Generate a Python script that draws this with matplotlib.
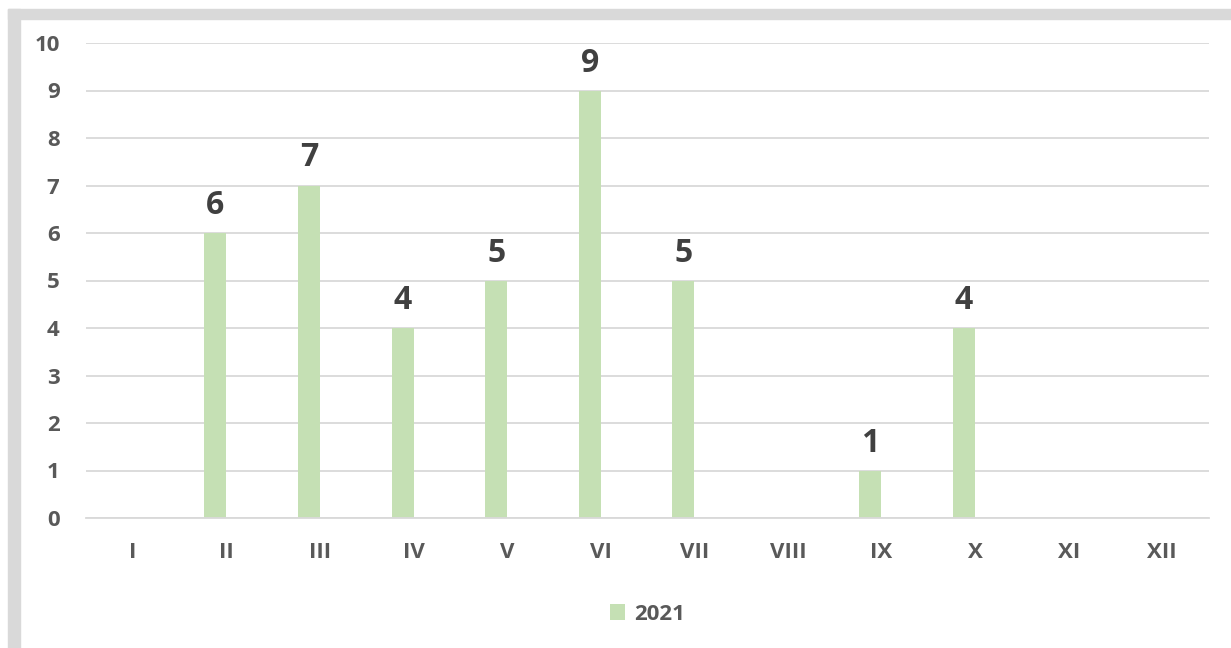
import matplotlib.pyplot as plt
import numpy as np
from matplotlib.patches import Rectangle

months = ['I', 'II', 'III', 'IV', 'V', 'VI', 'VII', 'VIII', 'IX', 'X', 'XI', 'XII']
values_2021 = [0, 6, 7, 4, 5, 9, 5, 0, 1, 4, 0, 0]
labels_2021 = ['', '6', '7', '4', '5', '9', '5', '', '1', '4', '', '']

plt.rcParams['font.family'] = ['Open Sans', 'DejaVu Sans']
plt.rcParams['font.weight'] = 'bold'

fig = plt.figure(figsize=(12.31, 6.48), dpi=100)

# light grey frame on the left and top
fig.patches.append(Rectangle((8 / 1231, 0), 12 / 1231, 1 - 9 / 648, transform=fig.transFigure,
                             color='#d9d9d9', zorder=0))
fig.patches.append(Rectangle((8 / 1231, 1 - 19 / 648), 1 - 8 / 1231, 10 / 648, transform=fig.transFigure,
                             color='#d9d9d9', zorder=0))

ax = fig.add_axes([86 / 1231, 1 - 518 / 648, 1123 / 1231, 475 / 648])

x = np.arange(len(months))
w = 0.235
ax.bar(x - w / 2, values_2021, width=w, color='#c5e0b4', label='2021', zorder=2)
for xi, v, lab in zip(x, values_2021, labels_2021):
    if lab:
        ax.text(xi - w / 2, v + 0.4, lab, ha='center', va='baseline', fontsize=23,
                fontweight='bold', color='#404040')

ax.set_xlim(-0.5, len(months) - 0.5)
ax.set_ylim(0, 10)
ax.set_yticks(range(0, 11))
ax.set_xticks(x)
ax.set_xticklabels(months)
ax.yaxis.grid(True, color='#d9d9d9', linewidth=1.3, zorder=0)
ax.set_axisbelow(True)
for s in ['top', 'right', 'left']:
    ax.spines[s].set_visible(False)
ax.spines['bottom'].set_color('#d9d9d9')
ax.spines['bottom'].set_linewidth(1.3)
ax.tick_params(length=0, labelsize=16, labelcolor='#595959')
ax.tick_params(axis='y', pad=19)
ax.tick_params(axis='x', pad=17)
for t in ax.get_xticklabels() + ax.get_yticklabels():
    t.set_fontweight('bold')

leg = ax.legend(loc='upper center', bbox_to_anchor=(0.5, -0.138), frameon=False,
                handlelength=0.7, handleheight=0.7, handletextpad=0.4,
                prop={'size': 16, 'weight': 'bold'})
for t in leg.get_texts():
    t.set_color('#595959')

plt.savefig('out.png', dpi=100)
